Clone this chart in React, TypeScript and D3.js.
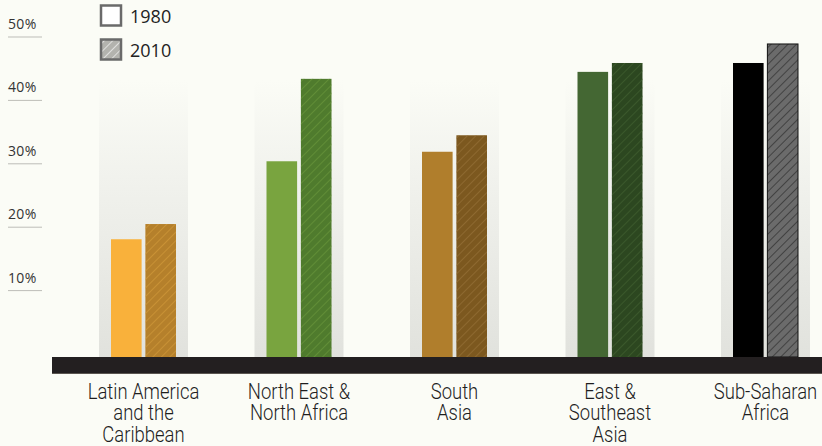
import React from "react";
import * as d3 from "d3";

const categoryLabels: string[][] = [
  ["Latin America", "and the", "Caribbean"],
  ["North East &", "North Africa"],
  ["South", "Asia"],
  ["East &", "Southeast", "Asia"],
  ["Sub-Saharan", "Africa"],
];
const years = ["1980", "2010"];
const values1980 = [18.1, 30.4, 31.9, 44.5, 45.9];
const values2010 = [20.5, 43.4, 34.5, 45.9, 48.9];
const yTicks = [10, 20, 30, 40, 50];

const colors1980 = ["#f9b13b", "#79a43f", "#b07e2c", "#446733", "#000000"];
const colors2010 = ["#b5802b", "#4f7b2d", "#7c581f", "#2c4720", "#6b6b6b"];
const stripeColors = ["#d29a3a", "#6a983c", "#977238", "#426131", "#2a2a2a"];

const W = 822;
const H = 446;
const BG = "#fbfcf6";
const bandTop = 357;
const bandBottom = 373;

export default function App() {
  const groups = categoryLabels.map((_, i) => String(i));
  const x = d3.scalePoint<string>().domain(groups).range([143.5, 765.5]);
  const xInner = d3.scaleBand<string>().domain(years).range([-32.5, 32.5]).paddingInner(0.11);
  const y = d3.scaleLinear().domain([0, 50]).range([354, 37]);
  const panelW = 89;
  const bw = xInner.bandwidth();

  return (
    <svg
      width={W}
      height={H}
      style={{ position: "absolute", top: 0, left: 0, display: "block" }}
    >
      <defs>
        <linearGradient id="panelGrad" x1="0" y1="0" x2="0" y2="1">
          <stop offset="0" stopColor={BG} />
          <stop offset="0.35" stopColor="#f1f2ed" />
          <stop offset="1" stopColor="#e1e2dd" />
        </linearGradient>
        {stripeColors.map((c, i) => (
          <pattern
            key={i}
            id={`stripes-${i}`}
            width={6}
            height={6}
            patternUnits="userSpaceOnUse"
            patternTransform="rotate(45)"
          >
            <line x1={0} y1={0} x2={0} y2={6} stroke={c} strokeWidth={1.3} />
          </pattern>
        ))}
        <pattern
          id="stripes-legend"
          width={6}
          height={6}
          patternUnits="userSpaceOnUse"
          patternTransform="rotate(45)"
        >
          <line x1={0} y1={0} x2={0} y2={6} stroke="#ffffff" strokeWidth={1.2} />
        </pattern>
      </defs>
      <rect x={0} y={0} width={W} height={H} fill={BG} />

      {/* panels */}
      {groups.map((g) => (
        <rect
          key={"p" + g}
          x={(x(g) as number) - panelW / 2}
          y={80}
          width={panelW}
          height={bandTop - 80}
          fill="url(#panelGrad)"
        />
      ))}

      {/* y ticks */}
      {yTicks.map((t) => (
        <g key={t}>
          <line x1={8} x2={42} y1={y(t)} y2={y(t)} stroke="#bdbdb8" strokeWidth={1} />
          <text
            x={8}
            y={y(t) - 8}
            fontFamily="'Open Sans', sans-serif"
            fontSize={14}
            fill="#333"
            letterSpacing={0.3}
          >
            {t}%
          </text>
        </g>
      ))}

      {/* bars */}
      {groups.map((g, i) => {
        const cx = x(g) as number;
        const x1 = cx + (xInner("1980") as number);
        const x2 = cx + (xInner("2010") as number);
        const isLast = i === groups.length - 1;
        return (
          <g key={"b" + g}>
            <rect
              x={x1}
              y={y(values1980[i])}
              width={bw}
              height={bandTop - y(values1980[i])}
              fill={colors1980[i]}
            />
            <rect
              x={x2}
              y={y(values2010[i])}
              width={bw}
              height={bandTop - y(values2010[i])}
              fill={colors2010[i]}
            />
            <rect
              x={x2}
              y={y(values2010[i])}
              width={bw}
              height={bandTop - y(values2010[i])}
              fill={`url(#stripes-${i})`}
              stroke={isLast ? "#111" : "none"}
              strokeWidth={isLast ? 1 : 0}
            />
          </g>
        );
      })}

      {/* baseline band */}
      <rect x={52} y={bandTop} width={W - 52} height={bandBottom - bandTop} fill="#231f20" />
      <rect x={52} y={bandBottom} width={W - 52} height={1} fill="#5a5550" />

      {/* category labels */}
      {groups.map((g, i) => (
        <g key={"l" + g} transform={`translate(${x(g) as number},0) scale(0.84,1)`}>
          <text
            x={0}
            y={399}
            textAnchor="middle"
            fontFamily="Roboto, sans-serif"
            fontWeight={300}
            fontSize={22}
            fill="#1e1e1e"
          >
            {categoryLabels[i].map((line, j) => (
              <tspan key={j} x={0} dy={j === 0 ? 0 : 21.5}>
                {line}
              </tspan>
            ))}
          </text>
        </g>
      ))}

      {/* legend */}
      <rect x={101} y={5.5} width={20} height={20} fill="#ffffff" stroke="#6a6a6a" strokeWidth={2.5} />
      <text x={130} y={23} fontFamily="'Open Sans', sans-serif" fontSize={18} fill="#222">
        {years[0]}
      </text>
      <rect x={101} y={39.5} width={20} height={20} fill="#b3b3ae" />
      <rect x={101} y={39.5} width={20} height={20} fill="url(#stripes-legend)" stroke="#6a6a6a" strokeWidth={2.5} />
      <text x={130} y={57} fontFamily="'Open Sans', sans-serif" fontSize={18} fill="#222">
        {years[1]}
      </text>
    </svg>
  );
}
